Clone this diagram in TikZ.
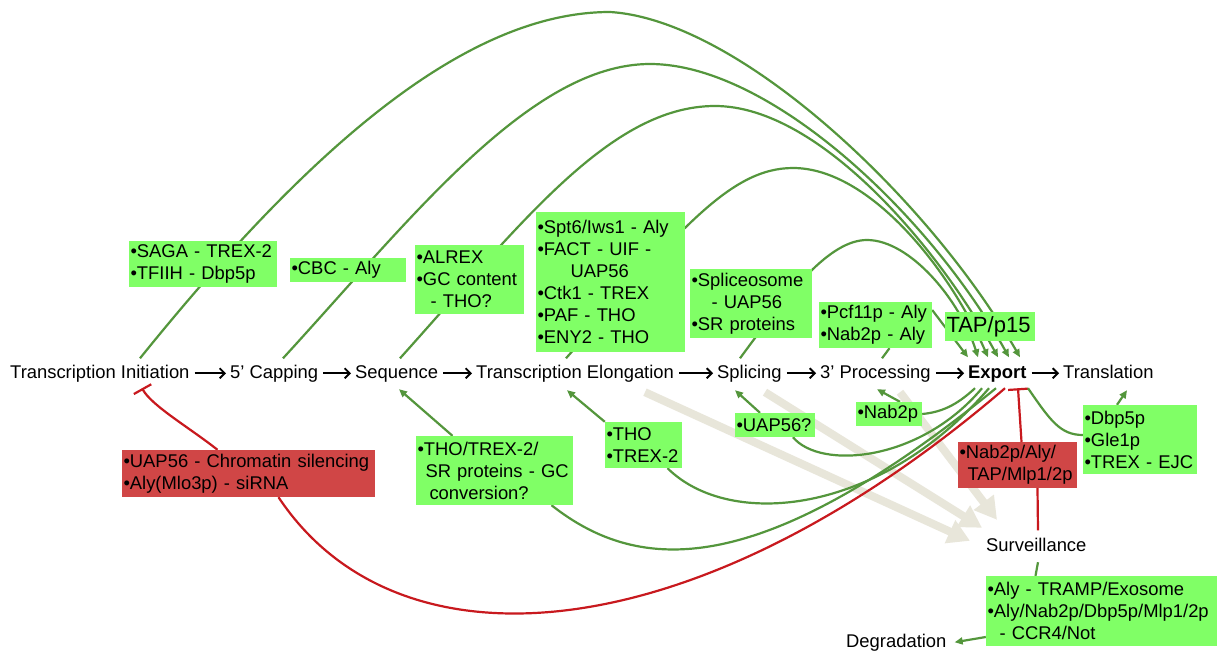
\documentclass[tikz,border=0pt]{standalone}
\usepackage{fontspec}
\setmainfont{Liberation Sans}
\usetikzlibrary{arrows.meta}
\definecolor{boxgreen}{RGB}{128,255,102}
\definecolor{boxred}{RGB}{208,70,70}
\definecolor{lgreen}{RGB}{84,150,60}
\definecolor{lred}{RGB}{200,25,30}
\definecolor{beige}{RGB}{232,230,218}
\pgfdeclarelayer{bglow}
\pgfdeclarelayer{bgmid}
\pgfsetlayers{bglow,bgmid,main}
\begin{document}
\begin{tikzpicture}[x=1pt,y=-1pt,
  every node/.style={font=\fontsize{18.4pt}{22pt}\selectfont, inner sep=0pt},
  main/.style={anchor=base west, text height=13.5pt, text depth=4pt},
  gbox/.style={fill=boxgreen, align=left, inner xsep=1.5pt, inner ysep=0pt},
  rbox/.style={fill=boxred, align=left, inner xsep=1.5pt, inner ysep=0pt},
  flow/.style={draw=black, line width=1.8pt, -{Straight Barb[length=5pt,width=10pt]}, shorten <=5pt, shorten >=4pt},
  gline/.style={draw=lgreen, line width=2.2pt},
  garrow/.style={gline, -{Triangle[length=8pt,width=7pt]}},
  rline/.style={draw=lred, line width=2.2pt},
  rbar/.style={rline, -{Bar[width=20pt,line width=2.2pt]}},
  warrow/.style={draw=beige, line width=8pt, -{Triangle[length=22pt,width=24pt]}}
]
\useasboundingbox (0,0) rectangle (1219,651);

% main process labels
\node[main] (ti) at (10,378) {Transcription Initiation};
\node[main] (cap) at (230,378) {5’ Capping};
\node[main] (seq) at (355,378) {Sequence};
\node[main] (te) at (476,378) {Transcription Elongation};
\node[main] (spl) at (717,378) {Splicing};
\node[main] (proc) at (820,378) {3’ Processing};
\node[main] (exp) at (968,378) {\textbf{Export}};
\node[main] (trl) at (1063,378) {Translation};
\node[main] (surv) at (986,551) {Surveillance};
\node[main] (deg) at (846,647) {Degradation};

% green boxes
\node[gbox, minimum width=148pt, minimum height=46pt, text width=145pt] (bSAGA) at (203,264) {•SAGA - TREX-2\\•TFIIH - Dbp5p};
\node[gbox, minimum width=116pt, minimum height=24pt, text width=113pt] (bCBC) at (348,270) {•CBC - Aly};
\node[gbox, minimum width=109pt, minimum height=69pt, text width=106pt] (bALREX) at (469.5,279.5) {•ALREX\\•GC content\\\hspace*{14pt}- THO?};
\node[gbox, minimum width=149pt, minimum height=140pt, text width=146pt] (bSPT) at (610.5,282) {•Spt6/Iws1 - Aly\\•FACT - UIF -\\\hspace*{33pt}UAP56\\•Ctk1 - TREX\\•PAF - THO\\•ENY2 - THO};
\node[gbox, minimum width=122pt, minimum height=69pt, text width=119pt] (bSPL) at (751,303.5) {•Spliceosome\\\hspace*{20pt}- UAP56\\•SR proteins};
\node[gbox, minimum width=113pt, minimum height=46pt, text width=110pt] (bPCF) at (875.5,325) {\mbox{•Pcf11p - Aly}\\•Nab2p - Aly};
\node[gbox, minimum width=90pt, minimum height=29pt, text width=87pt, font=\fontsize{22pt}{26pt}\selectfont] (bTAP) at (990,326.5) {TAP/p15};
\node[gbox, minimum width=66pt, minimum height=24pt, text width=63pt] (bNAB) at (889,414) {•Nab2p};
\node[gbox, minimum width=80pt, minimum height=24pt, text width=77pt] (bUAP) at (775,425) {•UAP56?};
\node[gbox, minimum width=77pt, minimum height=46pt, text width=74pt] (bTHO) at (643.5,445) {•THO\\•TREX-2};
\node[gbox, minimum width=157pt, minimum height=69pt, text width=154pt] (bSR) at (494.5,470.5) {•THO/TREX-2/\\\mbox{\hspace*{8pt}SR proteins - GC}\\\hspace*{12pt}conversion?};
\node[gbox, minimum width=114pt, minimum height=69pt, text width=111pt] (bDBP) at (1140,439.5) {•Dbp5p\\•Gle1p\\\mbox{•TREX - EJC}};
\node[gbox, minimum width=231pt, minimum height=70pt, text width=228pt] (bALY) at (1101.5,611) {•Aly - TRAMP/Exosome\\•Aly/Nab2p/Dbp5p/Mlp1/2p\\\hspace*{12pt}- CCR4/Not};
% red boxes
\node[rbox, minimum width=253pt, minimum height=47pt, text width=250pt] (rUAP) at (248.5,473.5) {•UAP56 - Chromatin silencing\\•Aly(Mlo3p) - siRNA};
\node[rbox, minimum width=119pt, minimum height=46pt, text width=116pt] (rNAB) at (1017.5,465) {•Nab2p/Aly/\\\mbox{\hspace*{8pt}TAP/Mlp1/2p}};

% main flow arrows
\draw[flow] (ti) -- (cap);
\draw[flow] (cap) -- (seq);
\draw[flow] (seq) -- (te);
\draw[flow] (te) -- (spl);
\draw[flow] (spl) -- (proc);
\draw[flow] (proc) -- (exp);
\draw[flow] (exp) -- (trl);

\begin{pgfonlayer}{bglow}
\fill[white] (0,0) rectangle (1219,651);
\draw[warrow] ([xshift=169pt,yshift=-10pt]te.south west) -- ([xshift=-16pt,yshift=-3.5pt]surv.north west);
\draw[warrow] ([xshift=48pt,yshift=-10pt]spl.south west) -- ([xshift=-4pt,yshift=9.5pt]surv.north west);
\draw[warrow] ([xshift=80pt,yshift=-10pt]proc.south west) -- ([xshift=11pt,yshift=17.5pt]surv.north west);
\end{pgfonlayer}

\begin{pgfonlayer}{bgmid}
% arcs to export
\draw[garrow] ([xshift=130pt,yshift=6pt]ti.north west) .. controls (300,160) and (460,12) .. (610,12) .. controls (740,20) and (930,200) .. ([xshift=52pt,yshift=7pt]exp.north west);
\draw[garrow] ([xshift=53pt,yshift=6pt]cap.north west) .. controls (410,220) and (530,64) .. (650,64) .. controls (770,64) and (930,215) .. ([xshift=41pt,yshift=7pt]exp.north west);
\draw[garrow] ([xshift=45pt,yshift=6pt]seq.north west) .. controls (520,225) and (610,106) .. (715,106) .. controls (820,106) and (940,250) .. ([xshift=30pt,yshift=7pt]exp.north west);
\draw[garrow] ([xshift=90pt,yshift=6pt]te.north west) .. controls (680,230) and (730,168) .. (793,168) .. controls (870,168) and (950,270) .. ([xshift=20pt,yshift=7pt]exp.north west);
\draw[garrow] ([xshift=23pt,yshift=6pt]spl.north west) .. controls (790,290) and (830,240) .. (867,240) .. controls (910,240) and (960,300) .. ([xshift=10pt,yshift=7pt]exp.north west);
\draw[gline] ([xshift=62pt,yshift=6pt]proc.north west) -- ([xshift=14pt]bPCF.south);
\draw[garrow] ([yshift=15pt]bPCF.east) -- ([xshift=0pt,yshift=7pt]exp.north west);
% lower green
\draw[gline] ([xshift=7pt,yshift=-6pt]exp.south west) .. controls (960,402) and (945,412) .. (bNAB.east);
\draw[garrow] ([xshift=11pt]bNAB.north) -- ([xshift=57pt,yshift=-7pt]proc.south west);
\draw[gline] ([xshift=14pt,yshift=-6pt]exp.south west) .. controls (920,462) and (820,470) .. ([xshift=18pt]bUAP.south);
\draw[garrow] ([xshift=-15pt]bUAP.north) -- ([xshift=18pt,yshift=-8pt]spl.south west);
\draw[gline] ([xshift=21pt,yshift=-6pt]exp.south west) .. controls (880,515) and (730,530) .. ([xshift=24pt]bTHO.south);
\draw[garrow] (bTHO.north west) -- ([xshift=91pt,yshift=-8pt]te.south west);
\draw[gline] ([xshift=28pt,yshift=-6pt]exp.south west) .. controls (760,580) and (640,575) .. ([xshift=57pt]bSR.south);
\draw[garrow] ([xshift=-42pt]bSR.north) -- ([xshift=44pt,yshift=-7pt]seq.south west);
% red inhibition
\draw[rline] ([xshift=37pt,yshift=-6pt]exp.south west) .. controls (700,650) and (400,680) .. ([xshift=30pt]rUAP.south);
\draw[rbar] ([xshift=-31pt]rUAP.north) .. controls (190,428) and (152,406) .. ([xshift=132pt,yshift=-6pt]ti.south west);
\draw[rline] ([xshift=52pt,yshift=7pt]surv.north west) -- ([xshift=20pt]rNAB.south);
\draw[rbar] ([xshift=4pt]rNAB.north) -- ([xshift=50pt,yshift=-6pt]exp.south west);
% right side
\draw[gline] ([xshift=60pt,yshift=-6pt]exp.south west) .. controls (1050,420) and (1060,435) .. ([yshift=4.5pt]bDBP.west);
\draw[garrow] ([xshift=-23pt]bDBP.north) -- ([xshift=64pt,yshift=-8pt]trl.south west);
\draw[gline] ([xshift=52pt,yshift=-7pt]surv.south west) -- ([xshift=-66pt]bALY.north);
\draw[garrow] ([yshift=-26pt]bALY.west) -- ([xshift=8pt]deg.east);
\end{pgfonlayer}
\end{tikzpicture}
\end{document}
